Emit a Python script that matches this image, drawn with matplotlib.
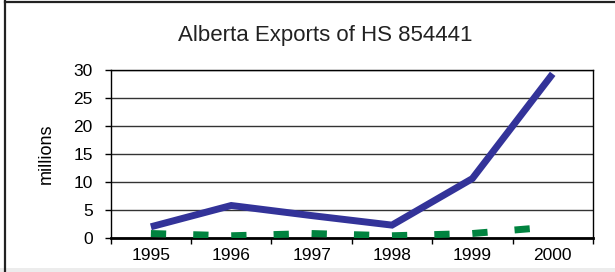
import numpy as np
import matplotlib.pyplot as plt
from matplotlib.lines import Line2D
from matplotlib.patches import Rectangle

plt.rcParams['font.family'] = ['Liberation Sans', 'DejaVu Sans']

# Data (millions)
years = ['1995', '1996', '1997', '1998', '1999', '2000']
exports_main = [2.0, 5.8, 4.0, 2.3, 10.6, 29.3]
exports_other = [0.8, 0.4, 0.8, 0.4, 0.8, 2.0]
y_ticks = [0, 5, 10, 15, 20, 25, 30]

fig = plt.figure(figsize=(6.15, 2.72), dpi=100)
ax = fig.add_axes([0.180, 0.125, 0.784, 0.618])

x = np.arange(len(years))
ax.plot(x, exports_main, color='#333399', lw=5, solid_joinstyle='miter',
        solid_capstyle='butt', zorder=3)
# dashed series: the dash pattern restarts at every point, like the original
for i in range(len(years) - 1):
    ax.plot(x[i:i + 2], exports_other[i:i + 2], color='#00833f', lw=5,
            dashes=(2.2, 3.9), dash_capstyle='butt', zorder=3)

ax.set_xlim(-0.5, len(years) - 0.5)
ax.set_ylim(0, 30)

# category axis: ticks on boundaries, labels centred
ax.set_xticks(np.arange(-0.5, len(years), 1))
ax.set_xticklabels([])
ax.set_xticks(x, minor=True)
ax.set_xticklabels(years, minor=True)
ax.tick_params(axis='x', which='major', direction='out', length=4, width=1)
ax.tick_params(axis='x', which='minor', length=0, pad=7, labelsize=12.5)

ax.set_yticks(y_ticks)
ax.tick_params(axis='y', direction='out', length=4, width=1, labelsize=12.5, pad=9)
ax.set_ylabel('millions', fontsize=13, labelpad=13)

ax.grid(axis='y', color='#333333', lw=1)
ax.set_axisbelow(True)
for side in ['top', 'right', 'left']:
    ax.spines[side].set_linewidth(1)
    ax.spines[side].set_color('black')
ax.spines['bottom'].set_linewidth(2)

fig.text(0.529, 0.87, 'Alberta Exports of HS 854441', ha='center', va='center',
         fontsize=16, color='#222222')

# outer frame of the original picture
fig.add_artist(Line2D([5 / 615, 5 / 615], [0, 1], color='#222222', lw=1.6))
fig.add_artist(Line2D([5 / 615, 1], [1 - 2 / 272, 1 - 2 / 272], color='#222222', lw=1.6))
fig.add_artist(Rectangle((0, 0), 1, 4 / 272, transform=fig.transFigure,
                         color='#ececec', lw=0))

fig.savefig('out.png', dpi=100)
